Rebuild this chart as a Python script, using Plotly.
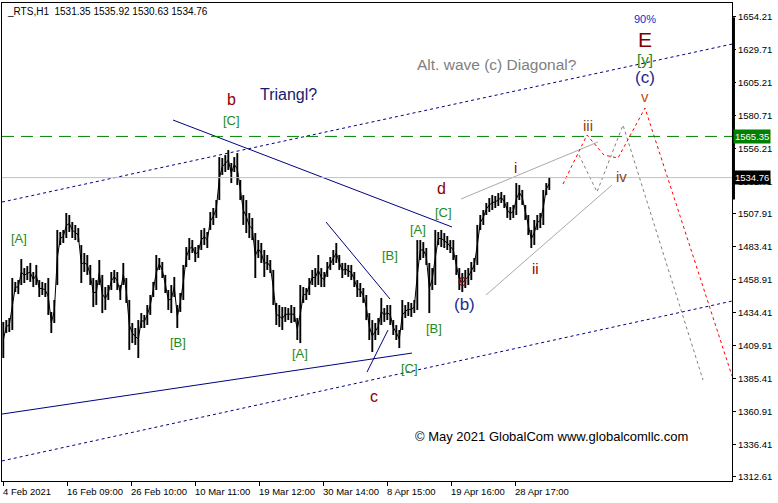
import plotly.graph_objects as go

# ---------------- data ----------------
# bar index (1 bar = 1 H1 bar; every 3rd bar sampled)
bars = list(range(0, 549, 3))

highs = [1427.6, 1429.0, 1430.5, 1460.2, 1457.3, 1458.7, 1474.3, 1467.6, 1469.1, 1471.4,
         1464.7, 1469.9, 1458.7, 1457.3, 1456.5, 1460.2, 1435.0, 1443.9, 1495.9, 1494.4,
         1495.9, 1508.5, 1507.0, 1501.8, 1499.6, 1497.3, 1484.7, 1478.8, 1477.3, 1469.9,
         1460.2, 1458.7, 1473.6, 1462.5, 1453.5, 1455.0, 1464.7, 1466.2, 1464.7, 1455.0,
         1471.4, 1460.2, 1443.9, 1426.8, 1423.1, 1429.0, 1434.2, 1432.8, 1440.2, 1447.6,
         1457.3, 1477.3, 1475.1, 1472.1, 1462.5, 1451.3, 1455.0, 1461.0, 1440.2, 1449.1,
         1469.9, 1483.2, 1489.9, 1488.4, 1483.2, 1484.7, 1495.9, 1497.3, 1494.4, 1509.2,
         1512.2, 1518.1, 1550.0, 1549.3, 1551.5, 1555.2, 1545.6, 1550.0, 1553.0, 1533.0,
         1521.8, 1518.1, 1508.5, 1504.8, 1493.6, 1488.4, 1486.2, 1481.0, 1477.3, 1473.6,
         1466.2, 1441.7, 1440.2, 1438.7, 1438.7, 1437.9, 1440.2, 1438.7, 1430.5, 1455.0,
         1453.5, 1452.8, 1460.2, 1466.2, 1467.6, 1477.3, 1467.6, 1464.7, 1472.1, 1475.8,
         1481.0, 1486.2, 1477.3, 1471.4, 1471.4, 1469.9, 1469.9, 1464.7, 1458.7, 1456.5,
         1452.8, 1447.6, 1434.2, 1429.0, 1426.8, 1430.5, 1445.4, 1437.9, 1440.2, 1440.2,
         1429.0, 1425.3, 1421.6, 1443.9, 1440.2, 1442.4, 1441.7, 1443.9, 1488.4, 1488.4,
         1486.9, 1482.5, 1471.4, 1467.6, 1495.9, 1494.4, 1495.9, 1493.6, 1491.4, 1488.4,
         1488.4, 1477.3, 1467.6, 1463.9, 1466.2, 1467.6, 1472.1, 1475.1, 1499.6, 1507.0,
         1510.7, 1515.9, 1519.6, 1521.8, 1521.1, 1523.3, 1524.1, 1521.8, 1516.6, 1512.9,
         1514.4, 1530.7, 1529.3, 1525.6, 1514.4, 1507.0, 1495.9, 1503.3, 1507.0, 1508.5,
         1525.6, 1530.7, 1535.2]

lows = [1400.8, 1419.4, 1420.1, 1421.6, 1449.8, 1448.3, 1455.0, 1456.5, 1458.7, 1457.3,
        1453.5, 1455.0, 1446.1, 1447.6, 1446.1, 1432.8, 1419.4, 1426.8, 1455.0, 1484.7,
        1486.2, 1489.9, 1494.4, 1489.9, 1488.4, 1486.9, 1456.5, 1464.7, 1462.5, 1455.0,
        1438.7, 1440.2, 1455.0, 1434.2, 1436.5, 1443.9, 1451.3, 1456.5, 1451.3, 1443.9,
        1455.0, 1441.7, 1406.8, 1411.9, 1410.5, 1400.8, 1423.1, 1423.1, 1425.3, 1432.8,
        1446.1, 1451.3, 1466.2, 1460.2, 1449.1, 1436.5, 1434.2, 1446.1, 1423.1, 1435.0,
        1443.9, 1468.4, 1473.6, 1478.8, 1472.1, 1475.1, 1481.0, 1484.7, 1482.5, 1495.9,
        1499.6, 1504.8, 1518.1, 1536.7, 1538.9, 1540.4, 1530.7, 1538.9, 1529.3, 1518.1,
        1499.6, 1493.6, 1489.9, 1488.4, 1460.2, 1475.1, 1471.4, 1461.0, 1466.2, 1463.9,
        1440.2, 1425.3, 1423.9, 1421.6, 1427.6, 1429.0, 1426.8, 1427.6, 1414.2, 1411.9,
        1441.7, 1443.9, 1447.6, 1455.0, 1453.5, 1455.0, 1453.5, 1453.5, 1461.0, 1466.2,
        1469.9, 1471.4, 1466.2, 1460.2, 1462.5, 1461.0, 1458.7, 1453.5, 1446.1, 1446.1,
        1441.7, 1429.0, 1414.2, 1405.3, 1414.2, 1417.9, 1425.3, 1427.6, 1429.0, 1425.3,
        1417.9, 1414.2, 1408.2, 1421.6, 1430.5, 1432.0, 1431.3, 1434.2, 1436.5, 1473.6,
        1475.1, 1469.9, 1434.2, 1451.3, 1455.0, 1484.7, 1483.2, 1482.5, 1481.0, 1478.8,
        1473.6, 1462.5, 1451.3, 1449.8, 1452.8, 1455.0, 1458.7, 1464.7, 1469.9, 1495.9,
        1499.6, 1507.0, 1509.2, 1510.7, 1512.2, 1513.7, 1515.9, 1512.2, 1504.8, 1503.3,
        1504.8, 1507.0, 1518.1, 1514.4, 1503.3, 1492.1, 1482.5, 1484.7, 1495.9, 1497.3,
        1499.6, 1521.8, 1525.6]

x_tick_bars = [0, 64, 128, 192, 256, 320, 384, 448, 512]
x_tick_labels = ["4 Feb 2021", "16 Feb 09:00", "26 Feb 10:00", "10 Mar 11:00", "19 Mar 12:00",
                 "30 Mar 14:00", "8 Apr 15:00", "19 Apr 16:00", "28 Apr 17:00"]

y_ticks = [1654.21, 1629.71, 1605.21, 1580.71, 1556.21, 1531.71, 1507.91, 1483.41,
           1458.91, 1434.41, 1409.91, 1385.41, 1360.91, 1336.41, 1312.61]

level_price = 1565.35
last_price = 1534.76
header = "_RTS,H1  1531.35 1535.92 1530.63 1534.76"

# analyst drawings: (bar, price) anchors
line_bd = ([169.7, 448.7], [1577.5, 1498.1])
line_ace = ([-1.3, 408.7], [1359.2, 1404.5])
line_short1 = ([322.7, 386.7], [1501.8, 1444.6])
line_short2 = ([363.7, 384.7], [1390.4, 1421.6])
chan_upper = ([-1.3, 728.7], [1516.6, 1633.9])
chan_lower = ([-1.3, 728.7], [1324.4, 1443.1])
diag_upper = ([457.7, 594.7], [1518.9, 1561.2])
diag_lower = ([482.7, 608.7], [1447.6, 1529.3])
path_red = ([559.7, 583.7, 600.7, 614.7, 641.7, 728.7], [1530.0, 1566.4, 1551.5, 1549.3, 1586.4, 1387.5])
path_gray = ([575.7, 593.7, 619.7, 699.7], [1551.5, 1524.1, 1573.8, 1384.5])

# wave labels: (text, bar, price, color, size)
labels = [
    ("b", 227.7, 1592.4, "#8b0000", 16),
    ("[C]", 227.7, 1576.8, "#228b22", 13),
    ("Triangl?", 284.7, 1596.8, "#191970", 16),
    ("Alt. wave (c) Diagonal?", 493.7, 1619.1, "#808080", 15.5),
    ("90%", 641.7, 1652.5, "#0033cc", 11),
    ("E", 641.7, 1637.6, "#800000", 21),
    ("[y]", 641.7, 1622.8, "#228b22", 15),
    ("(c)", 641.7, 1609.4, "#1f1f8f", 17),
    ("v", 641.7, 1595.3, "#c05000", 15),
    ("iii", 584.7, 1573.8, "#8b4513", 15),
    ("iv", 617.7, 1535.9, "#8b4513", 15),
    ("i", 511.7, 1542.6, "#990000", 15),
    ("ii", 531.7, 1467.6, "#990000", 15),
    ("d", 437.7, 1527.0, "#8b0000", 16),
    ("[C]", 439.7, 1509.2, "#228b22", 13),
    ("[A]", 414.7, 1495.9, "#228b22", 13),
    ("e", 458.7, 1458.0, "#8b0000", 16),
    ("(b)", 460.7, 1440.2, "#2a2a90", 17),
    ("[B]", 430.7, 1423.1, "#228b22", 13),
    ("[B]", 386.7, 1477.3, "#228b22", 13),
    ("[C]", 405.7, 1393.4, "#228b22", 13),
    ("c", 370.7, 1372.6, "#8b0000", 16),
    ("[A]", 296.7, 1403.8, "#228b22", 13),
    ("[B]", 174.7, 1412.7, "#228b22", 13),
    ("[A]", 15.7, 1489.9, "#228b22", 13),
    ("\u00a9 May 2021 GlobalCom www.globalcomllc.com", 547.7, 1342.2, "#000000", 13),
]

# ---------------- figure ----------------
FONT = "Liberation Sans, Arial, sans-serif"
fig = go.Figure()

# price bars: one vertical high-low stroke per sampled bar
px_, py_ = [], []
for b, h, l in zip(bars, highs, lows):
    px_ += [b, b, None]
    py_ += [l, h, None]
fig.add_trace(go.Scatter(x=px_, y=py_, mode="lines",
                         line=dict(color="black", width=1.9),
                         hoverinfo="skip", showlegend=False))
# thin trace joining consecutive bars so the series reads as continuous
mids = [(h + l) / 2 for h, l in zip(highs, lows)]
fig.add_trace(go.Scatter(x=bars, y=mids, mode="lines",
                         line=dict(color="black", width=1),
                         hoverinfo="skip", showlegend=False))

def add_line(pts, color, width=1, dash="solid"):
    fig.add_trace(go.Scatter(x=pts[0], y=pts[1], mode="lines",
                             line=dict(color=color, width=width, dash=dash),
                             hoverinfo="skip", showlegend=False))

add_line(chan_upper, "#000080", 1, "3px,3px")
add_line(chan_lower, "#000080", 1, "3px,3px")
add_line(line_bd, "#000080", 1)
add_line(line_ace, "#000080", 1)
add_line(line_short1, "#000080", 1)
add_line(line_short2, "#000080", 1)
add_line(diag_upper, "#a9a9a9", 1)
add_line(diag_lower, "#a9a9a9", 1)
add_line(path_gray, "#808080", 1, "3px,3px")
add_line(path_red, "#ff0000", 1, "3px,3px")

# horizontal levels
fig.add_hline(y=level_price, line=dict(color="#008000", width=1, dash="12px,7px"))
fig.add_hline(y=last_price, line=dict(color="#c0c0c0", width=1))

# thick marker on the price scale
fig.add_shape(type="line", xref="paper", yref="y", x0=1.002, x1=1.002,
              y0=1518.5, y1=1653.8, line=dict(color="black", width=3))

for txt, bx, py, col, sz in labels:
    fig.add_annotation(x=bx, y=py, text=txt, showarrow=False,
                       font=dict(family=FONT, size=sz, color=col),
                       xanchor="center", yanchor="middle")

# price boxes
for val, bg in [(level_price, "#008000"), (last_price, "#000000")]:
    fig.add_annotation(x=1, xref="paper", y=val, yref="y", text=f"{val:.2f}",
                       showarrow=False, xanchor="left", yanchor="middle",
                       xshift=1, bgcolor=bg, borderpad=1,
                       font=dict(family=FONT, size=9.5, color="white"))

# x tick labels (left aligned to the tick, like the terminal)
for b, t in zip(x_tick_bars, x_tick_labels):
    fig.add_annotation(x=b, xref="x", y=0, yref="paper", text=t, showarrow=False,
                       xanchor="left", yanchor="top", xshift=-2, yshift=-3,
                       font=dict(family=FONT, size=9.5, color="black"))

fig.add_annotation(x=0, xref="paper", y=1, yref="paper", text=header, showarrow=False,
                   xanchor="left", yanchor="top", xshift=3, yshift=-1,
                   font=dict(family=FONT, size=10, color="black"))

fig.update_layout(
    width=778, height=503,
    margin=dict(l=2, r=46, t=3, b=22),
    paper_bgcolor="white", plot_bgcolor="white",
    showlegend=False,
    xaxis=dict(range=[-1.3, 728.7], showgrid=False, zeroline=False,
               showline=True, mirror=True, linecolor="black", linewidth=1,
               ticks="outside", ticklen=4, tickcolor="black",
               tickvals=x_tick_bars, showticklabels=False),
    yaxis=dict(range=[1309.5, 1664.4], side="right", showgrid=False, zeroline=False,
               showline=True, mirror=True, linecolor="black", linewidth=1,
               ticks="outside", ticklen=3, tickcolor="black",
               tickvals=y_ticks, ticktext=[f"{v:.2f}" for v in y_ticks],
               tickfont=dict(family=FONT, size=9.5, color="black")),
)

fig.write_html("out.html", config={"displayModeBar": False},
               post_script="document.body.style.margin='0';")
